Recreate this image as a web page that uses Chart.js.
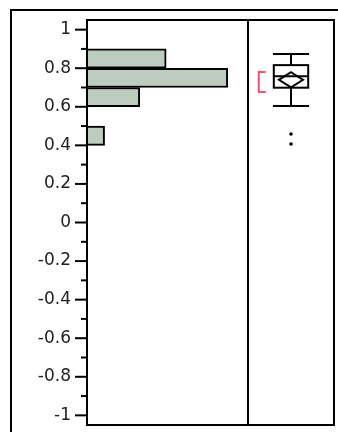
<!DOCTYPE html>
<html>
<head>
<meta charset="utf-8">
<script src="https://cdn.jsdelivr.net/npm/chart.js@4"></script>
<style>
  html, body { margin: 0; padding: 0; background: #fff; }
  #wrap { position: relative; width: 338px; height: 432px; overflow: hidden; }
  #wrap canvas { position: absolute; left: 0; top: 0; }
</style>
</head>
<body>
<div id="wrap">
  <canvas id="hist" width="338" height="432"></canvas>
  <canvas id="box" width="338" height="432"></canvas>
</div>
<script>
// Histogram bins (centre of each 0.1-wide bin) and their counts
const binCenters = [0.45, 0.65, 0.75, 0.85];
const binCounts  = [2, 6, 16, 9];

// Axis ticks
const majorTicks = [-1, -0.8, -0.6, -0.4, -0.2, 0, 0.2, 0.4, 0.6, 0.8, 1];
const tickLabels = ['-1', '-0.8', '-0.6', '-0.4', '-0.2', '0', '0.2', '0.4', '0.6', '0.8', '1'];
const minorTicks = [-0.9, -0.7, -0.5, -0.3, -0.1, 0.1, 0.3, 0.5, 0.7, 0.9];

// Outlier box plot summary
const whiskerLow  = 0.604;
const quartile1   = 0.699;
const medianValue = 0.758;
const quartile3   = 0.816;
const whiskerHigh = 0.874;
const meanValue   = 0.740;
const meanCI      = [0.701, 0.779];
const shortestHalf = [0.677, 0.780];
const outliers    = [0.459, 0.407];

const Y_MIN = -1.05, Y_MAX = 1.05;
const FRAME = '#000';

function line(ctx, x1, y1, x2, y2) {
  ctx.beginPath();
  ctx.moveTo(x1, y1);
  ctx.lineTo(x2, y2);
  ctx.stroke();
}

// Frame, outer border and tick marks for the histogram panel
const histFrame = {
  id: 'histFrame',
  afterDraw(chart) {
    const { ctx, chartArea: a, scales: { y } } = chart;
    ctx.save();
    ctx.strokeStyle = FRAME;
    ctx.lineWidth = 2;
    // outer border
    line(ctx, 11, 10, 11, 432);
    line(ctx, 10, 10, 338, 10);
    // panel edges
    line(ctx, a.left, a.top - 1, a.left, a.bottom + 1);
    line(ctx, a.left, a.top, a.right, a.top);
    line(ctx, a.left, a.bottom, a.right, a.bottom);
    line(ctx, a.right, a.top - 1, a.right, a.bottom + 1);
    // tick marks
    majorTicks.forEach(v => {
      const py = y.getPixelForValue(v);
      line(ctx, a.left - 12, py, a.left, py);
    });
    minorTicks.forEach(v => {
      const py = y.getPixelForValue(v);
      line(ctx, a.left - 6, py, a.left, py);
    });
    ctx.restore();
  }
};

new Chart(document.getElementById('hist'), {
  type: 'bar',
  data: {
    datasets: [{
      data: binCenters.map((c, i) => ({ x: binCounts[i], y: c })),
      backgroundColor: '#bccdc0',
      borderColor: '#000',
      borderWidth: 2,
      borderSkipped: 'start',
      barPercentage: 1,
      categoryPercentage: 1
    }]
  },
  options: {
    indexAxis: 'y',
    responsive: false,
    animation: false,
    devicePixelRatio: 1,
    layout: { padding: { left: 0, top: 20, right: 90, bottom: 7 } },
    plugins: { legend: { display: false }, tooltip: { enabled: false } },
    scales: {
      x: { type: 'linear', min: 0, max: 18.3, display: false },
      y: {
        type: 'linear',
        min: Y_MIN,
        max: Y_MAX,
        offset: false,
        afterBuildTicks: s => {
          s.ticks = majorTicks.concat(minorTicks).sort((p, q) => p - q).map(v => ({ value: v }));
        },
        afterFit: s => {
          s.width = 87;
          s.paddingTop = 0;
          s.paddingBottom = 0;
        },
        grid: { display: false, drawTicks: false, offset: false },
        border: { display: false },
        ticks: {
          autoSkip: false,
          padding: 16,
          color: '#222',
          font: { family: 'DejaVu Sans', size: 17 },
          callback: v => {
            const i = majorTicks.findIndex(m => Math.abs(m - v) < 1e-6);
            return i >= 0 ? tickLabels[i] : '';
          }
        }
      }
    }
  },
  plugins: [histFrame]
});

// Box plot: whiskers, box, median, mean diamond, shortest-half bracket
const boxPlot = {
  id: 'boxPlot',
  afterDatasetsDraw(chart) {
    const { ctx, chartArea: a, scales: { x, y } } = chart;
    const Y = v => y.getPixelForValue(v);
    const X = v => x.getPixelForValue(v);
    const cx = X(0.5);
    ctx.save();
    ctx.lineWidth = 2;
    ctx.strokeStyle = '#000';
    // stems
    line(ctx, cx, Y(whiskerHigh), cx, Y(quartile3));
    line(ctx, cx, Y(quartile1), cx, Y(whiskerLow));
    // caps
    line(ctx, X(0.29), Y(whiskerHigh), X(0.71), Y(whiskerHigh));
    line(ctx, X(0.29), Y(whiskerLow), X(0.71), Y(whiskerLow));
    // box
    ctx.fillStyle = '#fff';
    ctx.fillRect(X(0.3), Y(quartile3), X(0.7) - X(0.3), Y(quartile1) - Y(quartile3));
    ctx.strokeRect(X(0.3), Y(quartile3), X(0.7) - X(0.3), Y(quartile1) - Y(quartile3));
    // median
    line(ctx, X(0.3), Y(medianValue), X(0.7), Y(medianValue));
    // mean diamond
    ctx.beginPath();
    ctx.moveTo(cx, Y(meanCI[1]));
    ctx.lineTo(X(0.64), Y(meanValue));
    ctx.lineTo(cx, Y(meanCI[0]));
    ctx.lineTo(X(0.36), Y(meanValue));
    ctx.closePath();
    ctx.stroke();
    // shortest half bracket
    ctx.strokeStyle = '#e8566e';
    ctx.beginPath();
    ctx.moveTo(X(0.205), Y(shortestHalf[1]));
    ctx.lineTo(X(0.125), Y(shortestHalf[1]));
    ctx.lineTo(X(0.125), Y(shortestHalf[0]));
    ctx.lineTo(X(0.205), Y(shortestHalf[0]));
    ctx.stroke();
    // panel edges
    ctx.strokeStyle = FRAME;
    line(ctx, a.left, a.top, a.right, a.top);
    line(ctx, a.left, a.bottom, a.right, a.bottom);
    line(ctx, a.right, a.top - 1, a.right, a.bottom + 1);
    ctx.restore();
  }
};

new Chart(document.getElementById('box'), {
  type: 'scatter',
  data: {
    datasets: [{
      data: outliers.map(v => ({ x: 0.5, y: v })),
      pointRadius: 1.8,
      pointBackgroundColor: '#000',
      pointBorderWidth: 0
    }]
  },
  options: {
    responsive: false,
    animation: false,
    devicePixelRatio: 1,
    layout: { padding: { left: 248, top: 20, right: 4, bottom: 7 } },
    plugins: { legend: { display: false }, tooltip: { enabled: false } },
    scales: {
      x: { type: 'linear', min: 0, max: 1, display: false },
      y: { type: 'linear', min: Y_MIN, max: Y_MAX, display: false }
    }
  },
  plugins: [boxPlot]
});
</script>
</body>
</html>
